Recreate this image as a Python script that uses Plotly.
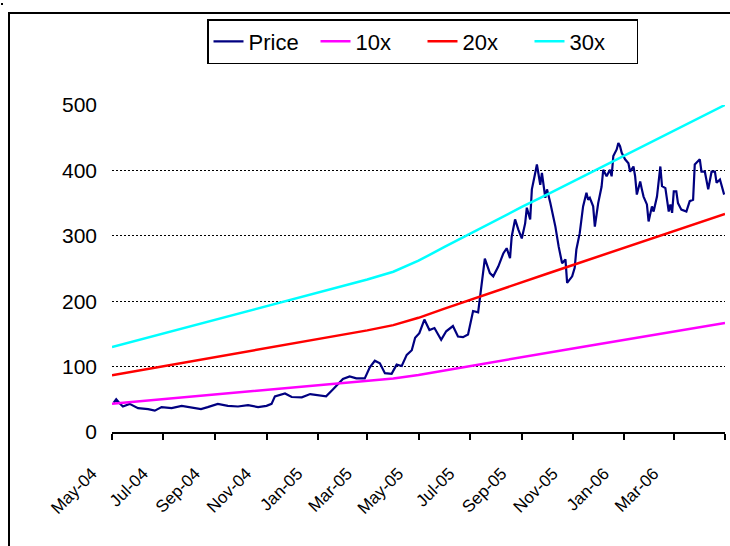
import plotly.graph_objects as go

# Share price (closing), sampled dates
price_dates = [
    "2004-05-03", "2004-05-06", "2004-05-10", "2004-05-14", "2004-05-22", "2004-06-01",
    "2004-06-13", "2004-06-21", "2004-06-29", "2004-07-11", "2004-07-23", "2004-08-03",
    "2004-08-15", "2004-08-23", "2004-09-04", "2004-09-16", "2004-09-28", "2004-10-10",
    "2004-10-22", "2004-11-01", "2004-11-07", "2004-11-11", "2004-11-23", "2004-12-01",
    "2004-12-13", "2004-12-23", "2005-01-03", "2005-01-11", "2005-01-19", "2005-01-31",
    "2005-02-08", "2005-02-16", "2005-02-26", "2005-03-04", "2005-03-10", "2005-03-16",
    "2005-03-22", "2005-03-30", "2005-04-05", "2005-04-11", "2005-04-17", "2005-04-23",
    "2005-04-27", "2005-05-02", "2005-05-08", "2005-05-14", "2005-05-20", "2005-05-28",
    "2005-06-03", "2005-06-11", "2005-06-17", "2005-06-23", "2005-06-29", "2005-07-05",
    "2005-07-11", "2005-07-15", "2005-07-19", "2005-07-25", "2005-07-29", "2005-08-04",
    "2005-08-10", "2005-08-14", "2005-08-18", "2005-08-20", "2005-08-24", "2005-08-28",
    "2005-09-01", "2005-09-05", "2005-09-07", "2005-09-11", "2005-09-13", "2005-09-17",
    "2005-09-19", "2005-09-23", "2005-09-25", "2005-09-29", "2005-10-01", "2005-10-05",
    "2005-10-11", "2005-10-15", "2005-10-19", "2005-10-23", "2005-10-25", "2005-10-31",
    "2005-11-03", "2005-11-05", "2005-11-09", "2005-11-13", "2005-11-17", "2005-11-19",
    "2005-11-21", "2005-11-25", "2005-11-27", "2005-12-01", "2005-12-05", "2005-12-07",
    "2005-12-11", "2005-12-15", "2005-12-17", "2005-12-19", "2005-12-23", "2005-12-25",
    "2005-12-27", "2005-12-29", "2006-01-02", "2006-01-06", "2006-01-08", "2006-01-12",
    "2006-01-14", "2006-01-16", "2006-01-20", "2006-01-22", "2006-01-24", "2006-01-28",
    "2006-01-30", "2006-02-03", "2006-02-05", "2006-02-09", "2006-02-13", "2006-02-15",
    "2006-02-19", "2006-02-23", "2006-02-25", "2006-02-27", "2006-03-01", "2006-03-04",
    "2006-03-06", "2006-03-10", "2006-03-16", "2006-03-20", "2006-03-24", "2006-03-26",
    "2006-04-01", "2006-04-03", "2006-04-07", "2006-04-11", "2006-04-15", "2006-04-19",
    "2006-04-21", "2006-04-25", "2006-04-27", "2006-04-29", "2006-04-30",
]
price = [
    45, 50, 44, 39, 43, 36.5,
    35, 32.6, 38, 36.5, 40, 38,
    35, 38, 43, 40, 39, 41,
    38, 40, 43, 54.5, 59, 53.5,
    53, 58, 56, 54.5, 65, 81,
    85, 82, 82, 99, 109, 105,
    90, 89, 103, 101, 118, 125,
    144, 151, 172, 156, 159, 141,
    154, 162, 146, 145, 149, 185,
    183, 220, 265, 243, 238, 253,
    273, 281, 266, 299, 325, 309,
    296, 319, 343, 325, 371, 396,
    409, 378, 396, 358, 371, 350,
    314, 283, 258, 264, 228, 238,
    251, 279, 304, 345, 366, 355,
    358, 345, 314, 350, 375, 401,
    391, 401, 391, 422, 432, 442,
    437, 427, 417, 411, 398, 406,
    391, 363, 383, 371, 360, 348,
    322, 345, 337, 360, 406, 376,
    373, 337, 348, 335, 368, 368,
    350, 340, 337, 353, 355, 409,
    417, 398, 398, 371, 398, 398,
    381, 386, 376, 366, 363,
]

# Earnings per share at each month start; the valuation bands are multiples of it
eps_dates = [
    "2004-05-01", "2004-06-01", "2004-07-01", "2004-08-01", "2004-09-01", "2004-10-01",
    "2004-11-01", "2004-12-01", "2005-01-01", "2005-02-01", "2005-03-01", "2005-04-01",
    "2005-05-01", "2005-06-01", "2005-07-01", "2005-08-01", "2005-09-01", "2005-10-01",
    "2005-11-01", "2005-12-01", "2006-01-01", "2006-02-01", "2006-03-01", "2006-04-01",
    "2006-05-01",
]
eps = [
    4.33, 4.68, 5.02, 5.37, 5.72, 6.05,
    6.40, 6.75, 7.10, 7.45, 7.77, 8.17,
    8.73, 9.43, 10.10, 10.78, 11.47, 12.10,
    12.77, 13.42, 14.08, 14.75, 15.37, 16.02,
    16.67,
]
multiples = [10, 20, 30]
band_colors = ["#FF00FF", "#FF0000", "#00FFFF"]

tick_dates = [
    "2004-05-01", "2004-07-01", "2004-09-01", "2004-11-01", "2005-01-01",
    "2005-03-01", "2005-05-01", "2005-07-01", "2005-09-01", "2005-11-01",
    "2006-01-01", "2006-03-01", "2006-05-01",
]
tick_text = [
    "May-04", "Jul-04", "Sep-04", "Nov-04", "Jan-05", "Mar-05", "May-05",
    "Jul-05", "Sep-05", "Nov-05", "Jan-06", "Mar-06", "",
]
y_ticks = [0, 100, 200, 300, 400, 500]

FONT = "Liberation Sans, Arial, sans-serif"

fig = go.Figure()
fig.add_trace(go.Scatter(
    x=price_dates, y=price, mode="lines", name="Price",
    line=dict(color="#000080", width=2.2),
))
for m, c in zip(multiples, band_colors):
    fig.add_trace(go.Scatter(
        x=eps_dates, y=[m * e for e in eps], mode="lines", name=f"{m}x",
        line=dict(color=c, width=2.5),
    ))

W, H = 730, 546
L, R, T, B = 112, 5, 105, 114
pw, ph = W - L - R, H - T - B


def px_x(p):
    return (p - L) / pw


def px_y(p):
    return (H - B - p) / ph


fig.update_layout(
    width=W, height=H,
    margin=dict(l=L, r=R, t=T, b=B),
    paper_bgcolor="white", plot_bgcolor="white",
    font=dict(family=FONT, size=20, color="black"),
    showlegend=True,
    legend=dict(
        orientation="h",
        x=px_x(207), y=px_y(19), xanchor="left", yanchor="top",
        bordercolor="black", borderwidth=1.5, bgcolor="white",
        font=dict(family=FONT, size=22, color="black"),
        traceorder="normal",
        entrywidth=62, entrywidthmode="pixels",
    ),
    xaxis=dict(
        type="date",
        range=["2004-05-01", "2006-05-01"],
        tickmode="array", tickvals=tick_dates, ticktext=tick_text,
        tickangle=-45,
        ticks="outside", ticklen=6, tickwidth=2, tickcolor="black",
        showline=True, linecolor="black", linewidth=2,
        showgrid=False, zeroline=False,
        tickfont=dict(family=FONT, size=17, color="black"),
        ticklabelstandoff=17, ticklabelshift=-20,
    ),
    yaxis=dict(
        range=[0, 500],
        tickmode="array", tickvals=y_ticks,
        showgrid=True, gridcolor="black", gridwidth=1, griddash="2px,2px",
        zeroline=False, showline=False, ticks="",
        tickfont=dict(family=FONT, size=21, color="black"),
        ticklabelstandoff=14,
    ),
    shapes=[
        dict(type="rect", xref="paper", yref="paper",
             x0=px_x(9), x1=px_x(740), y0=px_y(560), y1=px_y(13),
             line=dict(color="black", width=2), fillcolor="rgba(0,0,0,0)",
             layer="below"),
        dict(type="rect", xref="paper", yref="paper",
             x0=px_x(1), x1=px_x(3), y0=px_y(5), y1=px_y(3),
             line=dict(color="black", width=0), fillcolor="black"),
    ],
)

fig.write_html("out.html")
